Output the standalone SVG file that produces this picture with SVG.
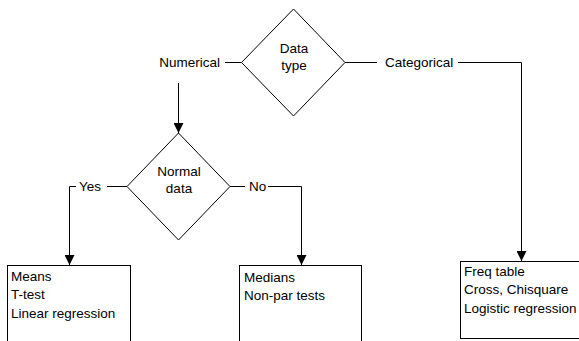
<svg xmlns="http://www.w3.org/2000/svg" width="579" height="341" viewBox="0 0 579 341">
<style>
text{font-family:"Liberation Sans",Arial,sans-serif;font-size:13.5px;fill:#000}
.c{text-anchor:middle}
.shape{fill:#fff;stroke:#000;stroke-width:1}
.conn{fill:none;stroke:#000;stroke-width:1}
</style>
<defs>
<marker id="arr" markerUnits="userSpaceOnUse" markerWidth="10" markerHeight="10" refX="10" refY="5" orient="auto">
<path d="M0,0 L10,5 L0,10 z" fill="#000"/>
</marker>
</defs>
<rect width="579" height="341" fill="#fff"/>
<g id="connectors">
<line class="conn" x1="241.5" y1="62.5" x2="225" y2="62.5"/>
<line class="conn" x1="178.5" y1="83" x2="178.5" y2="133" marker-end="url(#arr)"/>
<line class="conn" x1="345" y1="62.5" x2="377" y2="62.5"/>
<polyline class="conn" points="458,62.5 521.5,62.5 521.5,261" marker-end="url(#arr)"/>
<line class="conn" x1="127" y1="186.5" x2="107" y2="186.5"/>
<polyline class="conn" points="76,186.5 69.5,186.5 69.5,265" marker-end="url(#arr)"/>
<line class="conn" x1="230" y1="186.5" x2="245" y2="186.5"/>
<polyline class="conn" points="268,186.5 301.5,186.5 301.5,265" marker-end="url(#arr)"/>
<text x="220" y="67" text-anchor="end">Numerical</text>
<text x="385" y="67">Categorical</text>
<text x="79" y="191">Yes</text>
<text x="249" y="191">No</text>
</g>
<g id="datatype">
<polygon class="shape" points="293.5,9 345,62.5 293.5,116 241.5,62.5"/>
<text class="c" x="294" y="53">Data</text>
<text class="c" x="294" y="70">type</text>
</g>
<g id="normaldata">
<polygon class="shape" points="178.5,133 230,186.5 178.5,240 127,186.5"/>
<text class="c" x="179" y="176">Normal</text>
<text class="c" x="179" y="193">data</text>
</g>
<g id="means">
<rect class="shape" x="7.5" y="265.5" width="123" height="78"/>
<text x="11" y="281">Means</text>
<text x="11" y="299">T-test</text>
<text x="11" y="318">Linear regression</text>
</g>
<g id="medians">
<rect class="shape" x="239.5" y="265.5" width="122" height="78"/>
<text x="244" y="282">Medians</text>
<text x="244" y="300">Non-par tests</text>
</g>
<g id="freq">
<rect class="shape" x="460.5" y="261.5" width="122" height="77"/>
<text x="464" y="276">Freq table</text>
<text x="464" y="294">Cross, Chisquare</text>
<text x="464" y="313">Logistic regression</text>
</g>
</svg>
